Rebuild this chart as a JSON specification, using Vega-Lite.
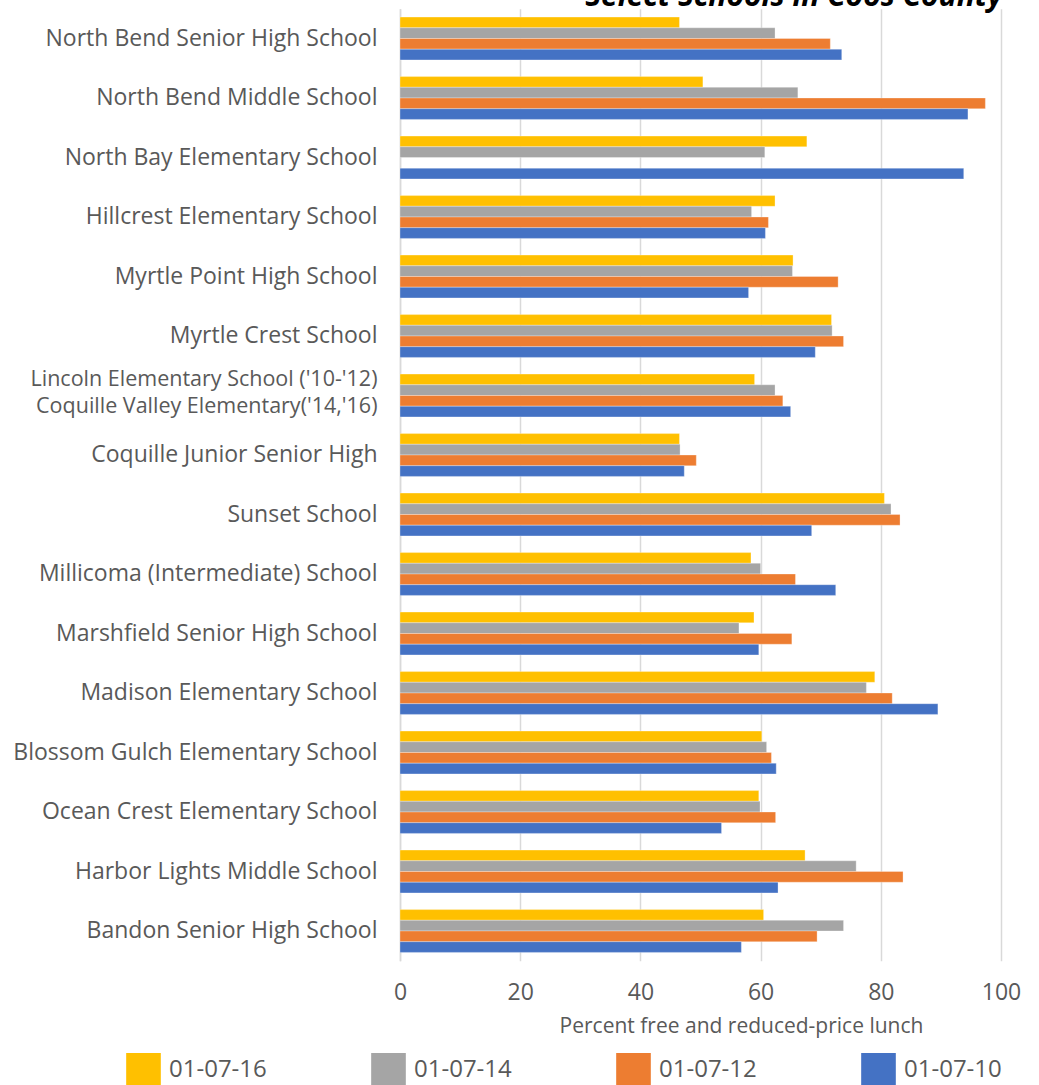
{
  "$schema": "https://vega.github.io/schema/vega-lite/v6.json",
  "autosize": {"type": "none"},
  "padding": {"left": 400, "top": 8.75, "right": 38, "bottom": 124.25},
  "width": 601,
  "height": 952,
  "background": "white",
  "title": {
    "text": "Select Schools in Coos County",
    "anchor": "end",
    "orient": "top",
    "offset": -3,
    "dx": -18,
    "font": "Open Sans",
    "fontSize": 30,
    "fontWeight": "bold",
    "fontStyle": "italic",
    "color": "#000000"
  },
  "data": {
    "values": [
      {"school": "North Bend Senior High School", "year": "01-07-16", "pct": 46.5},
      {"school": "North Bend Senior High School", "year": "01-07-14", "pct": 62.4},
      {"school": "North Bend Senior High School", "year": "01-07-12", "pct": 71.6},
      {"school": "North Bend Senior High School", "year": "01-07-10", "pct": 73.5},
      {"school": "North Bend Middle School", "year": "01-07-16", "pct": 50.4},
      {"school": "North Bend Middle School", "year": "01-07-14", "pct": 66.2},
      {"school": "North Bend Middle School", "year": "01-07-12", "pct": 97.4},
      {"school": "North Bend Middle School", "year": "01-07-10", "pct": 94.5},
      {"school": "North Bay Elementary School", "year": "01-07-16", "pct": 67.7},
      {"school": "North Bay Elementary School", "year": "01-07-14", "pct": 60.7},
      {"school": "North Bay Elementary School", "year": "01-07-10", "pct": 93.8},
      {"school": "Hillcrest Elementary School", "year": "01-07-16", "pct": 62.4},
      {"school": "Hillcrest Elementary School", "year": "01-07-14", "pct": 58.5},
      {"school": "Hillcrest Elementary School", "year": "01-07-12", "pct": 61.3},
      {"school": "Hillcrest Elementary School", "year": "01-07-10", "pct": 60.8},
      {"school": "Myrtle Point High School", "year": "01-07-16", "pct": 65.4},
      {"school": "Myrtle Point High School", "year": "01-07-14", "pct": 65.3},
      {"school": "Myrtle Point High School", "year": "01-07-12", "pct": 72.9},
      {"school": "Myrtle Point High School", "year": "01-07-10", "pct": 58.0},
      {"school": "Myrtle Crest School", "year": "01-07-16", "pct": 71.8},
      {"school": "Myrtle Crest School", "year": "01-07-14", "pct": 71.9},
      {"school": "Myrtle Crest School", "year": "01-07-12", "pct": 73.8},
      {"school": "Myrtle Crest School", "year": "01-07-10", "pct": 69.1},
      {"school": "Lincoln Elementary School ('10-'12)|Coquille Valley Elementary('14,'16)", "year": "01-07-16", "pct": 59.0},
      {"school": "Lincoln Elementary School ('10-'12)|Coquille Valley Elementary('14,'16)", "year": "01-07-14", "pct": 62.4},
      {"school": "Lincoln Elementary School ('10-'12)|Coquille Valley Elementary('14,'16)", "year": "01-07-12", "pct": 63.7},
      {"school": "Lincoln Elementary School ('10-'12)|Coquille Valley Elementary('14,'16)", "year": "01-07-10", "pct": 65.0},
      {"school": "Coquille Junior Senior High", "year": "01-07-16", "pct": 46.5},
      {"school": "Coquille Junior Senior High", "year": "01-07-14", "pct": 46.6},
      {"school": "Coquille Junior Senior High", "year": "01-07-12", "pct": 49.3},
      {"school": "Coquille Junior Senior High", "year": "01-07-10", "pct": 47.3},
      {"school": "Sunset School", "year": "01-07-16", "pct": 80.6},
      {"school": "Sunset School", "year": "01-07-14", "pct": 81.7},
      {"school": "Sunset School", "year": "01-07-12", "pct": 83.2},
      {"school": "Sunset School", "year": "01-07-10", "pct": 68.5},
      {"school": "Millicoma (Intermediate) School", "year": "01-07-16", "pct": 58.4},
      {"school": "Millicoma (Intermediate) School", "year": "01-07-14", "pct": 60.0},
      {"school": "Millicoma (Intermediate) School", "year": "01-07-12", "pct": 65.8},
      {"school": "Millicoma (Intermediate) School", "year": "01-07-10", "pct": 72.5},
      {"school": "Marshfield Senior High School", "year": "01-07-16", "pct": 58.9},
      {"school": "Marshfield Senior High School", "year": "01-07-14", "pct": 56.4},
      {"school": "Marshfield Senior High School", "year": "01-07-12", "pct": 65.2},
      {"school": "Marshfield Senior High School", "year": "01-07-10", "pct": 59.7},
      {"school": "Madison Elementary School", "year": "01-07-16", "pct": 79.0},
      {"school": "Madison Elementary School", "year": "01-07-14", "pct": 77.6},
      {"school": "Madison Elementary School", "year": "01-07-12", "pct": 81.9},
      {"school": "Madison Elementary School", "year": "01-07-10", "pct": 89.5},
      {"school": "Blossom Gulch Elementary School", "year": "01-07-16", "pct": 60.2},
      {"school": "Blossom Gulch Elementary School", "year": "01-07-14", "pct": 61.0},
      {"school": "Blossom Gulch Elementary School", "year": "01-07-12", "pct": 61.8},
      {"school": "Blossom Gulch Elementary School", "year": "01-07-10", "pct": 62.6},
      {"school": "Ocean Crest Elementary School", "year": "01-07-16", "pct": 59.7},
      {"school": "Ocean Crest Elementary School", "year": "01-07-14", "pct": 59.9},
      {"school": "Ocean Crest Elementary School", "year": "01-07-12", "pct": 62.5},
      {"school": "Ocean Crest Elementary School", "year": "01-07-10", "pct": 53.5},
      {"school": "Harbor Lights Middle School", "year": "01-07-16", "pct": 67.4},
      {"school": "Harbor Lights Middle School", "year": "01-07-14", "pct": 75.9},
      {"school": "Harbor Lights Middle School", "year": "01-07-12", "pct": 83.7},
      {"school": "Harbor Lights Middle School", "year": "01-07-10", "pct": 62.9},
      {"school": "Bandon Senior High School", "year": "01-07-16", "pct": 60.5},
      {"school": "Bandon Senior High School", "year": "01-07-14", "pct": 73.8},
      {"school": "Bandon Senior High School", "year": "01-07-12", "pct": 69.4},
      {"school": "Bandon Senior High School", "year": "01-07-10", "pct": 56.8}
    ]
  },
  "mark": {"type": "bar", "stroke": "white", "strokeWidth": 0.5, "strokeOpacity": 0.6},
  "encoding": {
    "y": {
      "field": "school",
      "type": "nominal",
      "sort": null,
      "scale": {"paddingInner": 0.28, "paddingOuter": 0.14},
      "axis": {
        "title": null,
        "labelExpr": "split(datum.label, '|')",
        "labelFont": "Open Sans",
        "labelFontSize": {"condition": {"test": "indexof(datum.value, '|') >= 0", "value": 21.5}, "value": 23},
        "labelOffset": {"condition": {"test": "indexof(datum.value, '|') >= 0", "value": -16}, "value": 0},
        "labelLineHeight": 27,
        "labelColor": "#595959",
        "labelPadding": 23,
        "labelLimit": 400,
        "ticks": false,
        "domain": true,
        "domainColor": "#d9d9d9",
        "domainWidth": 1.5,
        "grid": false
      }
    },
    "yOffset": {
      "field": "year",
      "type": "nominal",
      "sort": ["01-07-16", "01-07-14", "01-07-12", "01-07-10"],
      "scale": {"paddingInner": 0, "paddingOuter": 0}
    },
    "x": {
      "field": "pct",
      "type": "quantitative",
      "scale": {"domain": [0, 100], "nice": false},
      "axis": {
        "title": "Percent free and reduced-price lunch",
        "titleFont": "Open Sans",
        "titleFontSize": 21,
        "titleFontWeight": "normal",
        "titleColor": "#595959",
        "titlePadding": 11,
        "titleX": 341,
        "titleAlign": "center",
        "values": [0, 20, 40, 60, 80, 100],
        "labelFont": "Open Sans",
        "labelFontSize": 23,
        "labelColor": "#595959",
        "labelPadding": 21,
        "labelFlush": false,
        "ticks": false,
        "domain": false,
        "grid": true,
        "gridColor": "#d9d9d9",
        "gridWidth": 1.5
      }
    },
    "color": {
      "field": "year",
      "type": "nominal",
      "scale": {
        "domain": ["01-07-16", "01-07-14", "01-07-12", "01-07-10"],
        "range": ["#FFC000", "#A5A5A5", "#ED7D31", "#4472C4"]
      },
      "legend": {
        "title": null,
        "orient": "none",
        "legendX": -274,
        "legendY": 1044,
        "direction": "horizontal",
        "symbolType": "square",
        "symbolSize": 1200,
        "symbolStrokeWidth": 0,
        "labelFont": "Open Sans",
        "labelFontSize": 24,
        "labelColor": "#595959",
        "labelOffset": 8,
        "labelLimit": 200,
        "columnPadding": 104
      }
    }
  },
  "config": {"view": {"stroke": null}}
}
